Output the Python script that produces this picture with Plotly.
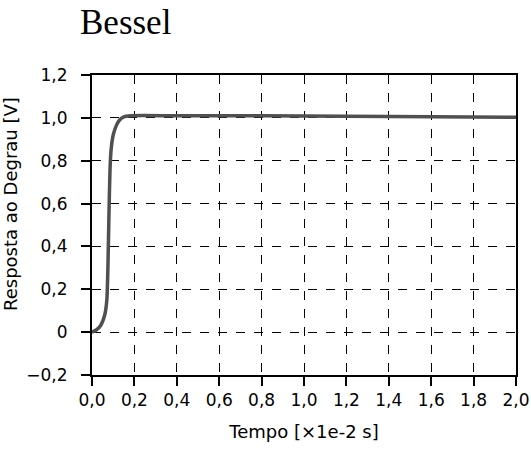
import plotly.graph_objects as go

# Step response
t_vals = [0.0, 0.02, 0.04, 0.06, 0.07, 0.075, 0.08, 0.085, 0.09, 0.10, 0.115, 0.13, 0.15, 0.18, 0.4, 0.8, 1.2, 1.6, 2.0]
v_vals = [0.0, 0.01, 0.03, 0.08, 0.15, 0.30, 0.55, 0.76, 0.85, 0.92, 0.965, 0.99, 1.005, 1.01, 1.01, 1.01, 1.008, 1.005, 1.003]

x_ticks = [0.0, 0.2, 0.4, 0.6, 0.8, 1.0, 1.2, 1.4, 1.6, 1.8, 2.0]
x_labels = ["0,0", "0,2", "0,4", "0,6", "0,8", "1,0", "1,2", "1,4", "1,6", "1,8", "2,0"]
y_ticks = [-0.2, 0.0, 0.2, 0.4, 0.6, 0.8, 1.0, 1.2]
y_labels = ["\u22120,2", "0", "0,2", "0,4", "0,6", "0,8", "1,0", "1,2"]

W, H = 531, 450
L, R, T, B = 92, 15, 75, 75

fig = go.Figure()
fig.add_trace(go.Scatter(x=t_vals, y=v_vals, mode="lines",
                         line=dict(color="#505050", width=3.5, shape="spline", smoothing=0.6),
                         hoverinfo="skip", showlegend=False))

tickfont = dict(family="DejaVu Sans, sans-serif", size=17, color="black")
titlefont = dict(family="DejaVu Sans, sans-serif", size=18, color="black")
axis_common = dict(showline=True, linecolor="black", linewidth=2, mirror=True,
                   ticks="outside", ticklen=9, tickwidth=2, tickcolor="black",
                   showgrid=True, gridcolor="black", gridwidth=1, griddash="dash",
                   zeroline=False, tickfont=tickfont, automargin=False)

fig.update_xaxes(range=[0, 2.0], tickvals=x_ticks, ticktext=x_labels,
                 title=dict(text="Tempo [\u00d71e-2 s]", font=titlefont, standoff=16), **axis_common)
fig.update_yaxes(range=[-0.2, 1.2], tickvals=y_ticks, ticktext=y_labels,
                 ticklabelstandoff=10, **axis_common)

fig.add_annotation(text="Resposta ao Degrau [V]", textangle=-90, showarrow=False,
                   xref="paper", yref="paper", x=(10 - L) / (W - L - R), y=0.57,
                   xanchor="center", yanchor="middle", font=titlefont)

fig.update_layout(
    width=W, height=H,
    margin=dict(l=L, r=R, t=T, b=B),
    paper_bgcolor="white", plot_bgcolor="white",
    title=dict(text="Bessel", font=dict(family="Liberation Serif, Times New Roman, serif", size=35, color="black"),
               xref="container", x=80 / W, xanchor="left", yref="container", y=1 - 22 / H, yanchor="middle"),
)

fig.write_html("out.html")
